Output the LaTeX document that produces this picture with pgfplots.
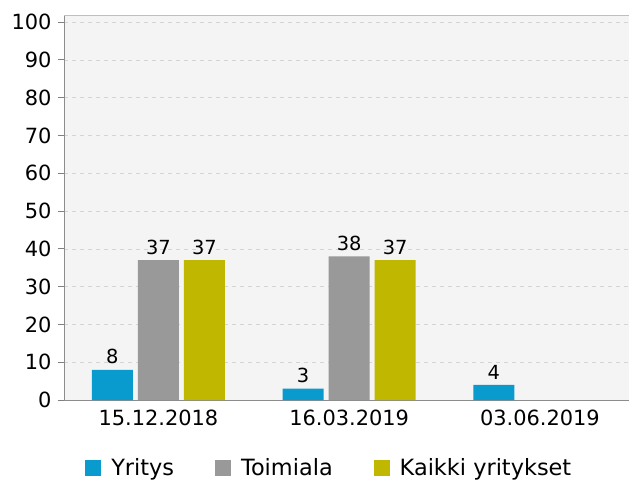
\documentclass[border=0pt]{standalone}
\usepackage{fontspec}
\setmainfont{DejaVu Sans}
\usepackage{pgfplots}
\pgfplotsset{compat=1.18}
\definecolor{yblue}{HTML}{0A9BCE}
\definecolor{ygray}{HTML}{999999}
\definecolor{yolive}{HTML}{C0B800}
\definecolor{bgplot}{HTML}{F4F4F4}

\begin{document}
\begin{tikzpicture}
\begin{axis}[
  name=ax,
  scale only axis, width=565bp, height=384bp,
  ybar=5bp, bar width=41bp,
  xmin=-0.495, xmax=2.467, ymin=0, ymax=101.6,
  xtick={0,1,2}, xticklabels={15.12.2018,16.03.2019,03.06.2019},
  ytick={0,10,...,100},
  axis x line*=bottom, axis y line*=left,
  axis line style={draw=gray!90, line width=1pt},
  axis background/.style={fill=bgplot},
  xtick style={draw=none}, ytick style={draw=gray, line width=0.8pt},
  tick align=outside, major tick length=6bp,
  ymajorgrids, grid style={dash pattern=on 4bp off 4bp, draw=black!17, line width=0.6pt},
  tick label style={font=\fontsize{21}{25}\selectfont},
  yticklabel style={xshift=-3bp},
  /pgf/number format/assume math mode=true,
  nodes near coords,
  every node near coord/.append style={font=\fontsize{19.5}{23}\selectfont, black, yshift=2bp},
  legend columns=-1,
  legend style={draw=none, fill=none, at={(0.032,-0.177)}, anchor=west,
    font=\fontsize{22.5}{26}\selectfont,
    /tikz/every odd column/.append style={column sep=8bp},
    /tikz/every even column/.append style={column sep=39bp}},
  legend image code/.code={\fill[#1] (0bp,-8bp) rectangle (16bp,8bp);},
]
\addplot[fill=yblue, draw=none] coordinates {(0,8) (1,3) (2,4)};
\addplot[fill=ygray, draw=none] coordinates {(0,37) (1,38)};
\addplot[fill=yolive, draw=none] coordinates {(0,37) (1,37)};
\legend{Yritys,Toimiala,Kaikki yritykset}
\draw[gray!50, line width=1pt] (rel axis cs:0,1) -- (rel axis cs:1,1);
\end{axis}
\pgfresetboundingbox
\path[use as bounding box] ([xshift=-64bp,yshift=-83bp]ax.south west) rectangle ([yshift=16bp]ax.north east);
\end{tikzpicture}
\end{document}
